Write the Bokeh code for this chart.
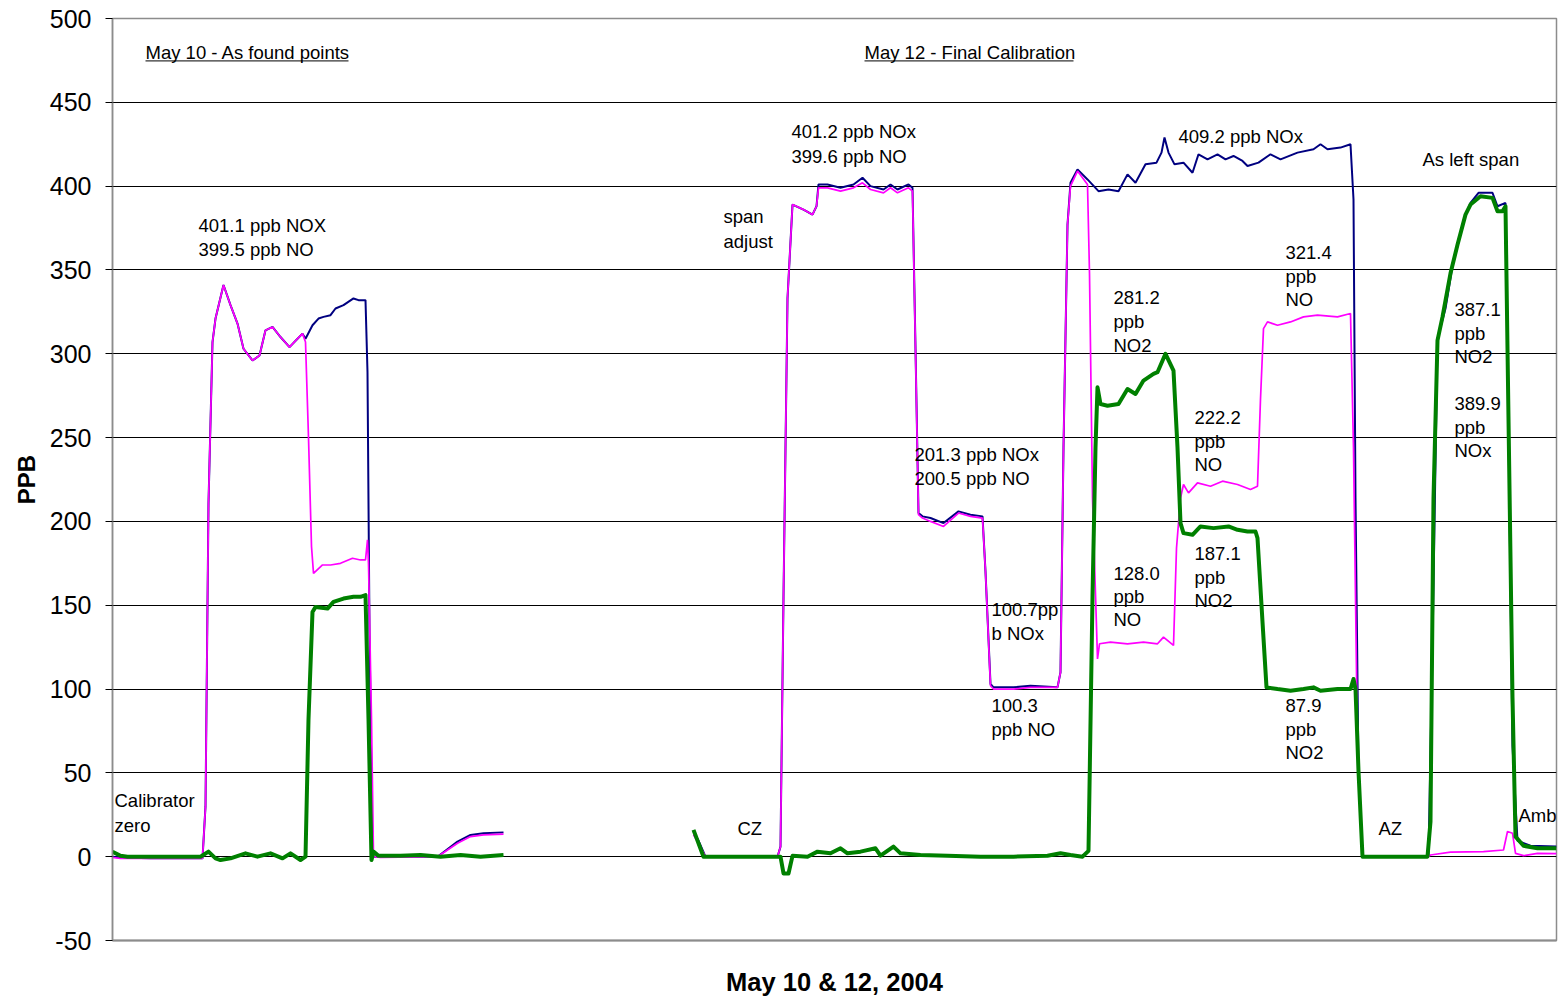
import math
from bokeh.plotting import figure
from bokeh.models import Range1d, FixedTicker, ColumnDataSource, PrintfTickFormatter
from bokeh.core.properties import value
from bokeh.embed import file_html
from bokeh.resources import INLINE

NAN = float("nan")

# ---- data: (time index, ppb) ----
NOX_MAY10 = [(0, 0), (8, -0.5), (38, -1), (68, -1), (90, -1), (93, 30), (96, 211), (100, 307),
             (103, 321), (111, 341), (118, 329), (125, 318), (131, 303), (140, 296), (147, 299),
             (153, 314), (160, 316), (168, 310), (177, 304), (185, 309), (190, 312), (193, 309),
             (200, 317), (206, 321), (211, 322), (218, 323), (223, 327), (231, 329), (241, 333),
             (246, 332), (253, 332), (255, 289), (257, 134), (260, 0), (268, 0), (325, 0),
             (345, 9), (358, 13), (371, 14), (391, 14.5)]
NOX_MAY12 = [(581, 15), (586, 9.5), (593, 0), (665, 0), (668, 6), (671, 155), (675, 333),
             (680, 389), (691, 386), (700, 383), (704, 388), (706, 401), (715, 401), (728, 399),
             (741, 401), (750, 405), (758, 400), (771, 398), (778, 401), (785, 398), (796, 401),
             (800, 399), (803, 303), (806, 205), (810, 203), (818, 202), (831, 199), (846, 206),
             (858, 204), (870, 203), (873, 170), (878, 103), (881, 101), (901, 101), (918, 102),
             (945, 101), (948, 110), (951, 244), (955, 377), (958, 402), (965, 410), (975, 404),
             (986, 397), (996, 398), (1006, 397), (1015, 407), (1023, 402), (1033, 413),
             (1044, 414), (1049, 420), (1052, 429), (1056, 420), (1062, 413), (1071, 414),
             (1080, 408), (1086, 419), (1095, 416), (1105, 419), (1113, 416), (1121, 418),
             (1130, 415), (1135, 412), (1146, 414), (1158, 419), (1168, 416), (1185, 420),
             (1201, 422), (1208, 425), (1215, 422), (1228, 423), (1238, 425), (1241, 392),
             (1243, 214), (1246, 51), (1250, 0), (1316, 0), (1320, 125), (1325, 309), (1333, 327),
             (1341, 356), (1353, 383), (1358, 390), (1366, 396), (1380, 396), (1385, 388),
             (1393, 390), (1395, 303), (1400, 66), (1405, 9.5), (1418, 6.5), (1444, 6)]

NO_MAY10 = [(0, -0.5), (8, -1), (38, -1), (68, -1), (90, -1), (93, 30), (96, 211), (100, 307),
            (103, 321), (111, 341), (118, 329), (125, 318), (131, 303), (140, 296), (147, 299),
            (153, 314), (160, 316), (168, 310), (177, 304), (185, 309), (190, 312), (193, 307),
            (196, 250), (199, 185), (201, 169), (210, 174), (218, 174), (228, 175), (240, 178),
            (248, 177), (253, 177), (255, 189), (256, 175), (259, 82), (261, 0), (268, -0.5),
            (325, 0), (345, 8), (358, 12), (371, 13), (391, 13.5)]
NO_MAY12 = [(581, 13), (586, 8), (593, 0), (665, 0), (668, 6), (671, 155), (675, 333),
            (680, 389), (691, 386), (700, 383), (704, 388), (706, 399), (715, 399), (728, 397),
            (741, 399), (750, 402), (758, 398), (771, 396), (778, 399), (785, 396), (796, 399),
            (800, 397), (803, 302), (806, 204), (810, 202), (818, 200), (831, 197), (846, 205),
            (858, 203), (870, 202), (873, 170), (878, 102), (881, 100), (901, 100), (918, 101),
            (945, 101), (948, 110), (951, 244), (955, 377), (958, 400), (965, 409), (975, 401),
            (977, 348), (980, 214), (985, 118), (987, 127), (998, 128), (1015, 127), (1031, 128),
            (1045, 127), (1051, 131), (1061, 126), (1064, 184), (1068, 214), (1071, 222),
            (1076, 217), (1085, 223), (1098, 221), (1110, 224), (1125, 222), (1138, 219),
            (1145, 221), (1148, 273), (1151, 315), (1155, 319), (1165, 317), (1178, 319),
            (1191, 322), (1205, 323), (1225, 322), (1238, 324), (1241, 244), (1245, 66),
            (1250, 0), (1316, 0), (1318, 1), (1338, 2.7), (1371, 3), (1391, 4), (1395, 15),
            (1400, 14), (1403, 2), (1411, 0.6), (1425, 2), (1444, 1.8)]

NO2_MAY10 = [(0, 3), (8, 0.5), (15, 0), (48, 0), (88, 0), (96, 3), (103, -1), (108, -2),
             (118, -1), (133, 2), (145, 0), (158, 2), (170, -1), (178, 2), (188, -2), (193, 0),
             (196, 82), (200, 146), (203, 149), (215, 148), (221, 152), (231, 154), (241, 155),
             (248, 155), (253, 156), (256, 82), (259, -2), (261, 3), (266, 0.5), (288, 0.5),
             (308, 1), (328, 0), (348, 1), (368, 0), (391, 1)]
NO2_MAY12 = [(581, 16), (591, 0), (665, 0), (668, 0), (671, -10), (676, -10), (680, 0.5),
             (695, 0), (705, 3), (718, 2), (728, 5), (735, 2), (748, 3), (763, 5), (768, 0.6),
             (781, 6), (788, 2), (808, 1), (835, 0.6), (868, 0), (901, 0), (935, 0.6), (948, 2),
             (958, 1), (970, 0), (976, 3.5), (980, 155), (983, 244), (985, 280), (988, 270),
             (995, 269), (1006, 270), (1015, 279), (1023, 276), (1031, 284), (1041, 288),
             (1045, 289), (1053, 300), (1061, 290), (1065, 244), (1068, 199), (1071, 193),
             (1080, 192), (1088, 197), (1101, 196), (1116, 197), (1125, 195), (1135, 194),
             (1143, 194), (1145, 190), (1150, 140), (1154, 101), (1165, 100), (1178, 99),
             (1191, 100), (1201, 101), (1208, 99), (1225, 100), (1238, 100), (1241, 106),
             (1243, 100), (1246, 51), (1250, 0), (1315, 0), (1318, 21), (1321, 214), (1325, 308),
             (1330, 322), (1338, 348), (1345, 365), (1353, 383), (1358, 389), (1368, 394),
             (1380, 393), (1385, 385), (1390, 385), (1393, 388), (1395, 303), (1400, 95),
             (1403, 12), (1411, 6.5), (1425, 5), (1444, 5)]

Y_TICKS = [-50, 0, 50, 100, 150, 200, 250, 300, 350, 400, 450, 500]

# annotation text lines: (text, time index, ppb)
NOTES = [("401.1 ppb NOX", 86, 376.6), ("399.5 ppb NO", 86, 362.3),
         ("span", 611, 382), ("adjust", 611, 367),
         ("401.2 ppb NOx", 679, 432.7), ("399.6 ppb NO", 679, 417.8),
         ("201.3 ppb NOx", 802, 240.2), ("200.5 ppb NO", 802, 225.3),
         ("100.7pp", 879, 147.2), ("b NOx", 879, 132.9),
         ("100.3", 879, 90), ("ppb NO", 879, 75.7),
         ("CZ", 625, 16.7),
         ("Calibrator", 2, 33.4), ("zero", 2, 18.5),
         ("409.2 ppb NOx", 1066, 429.7),
         ("281.2", 1001, 333.7), ("ppb", 1001, 319.4), ("NO2", 1001, 305.1),
         ("128.0", 1001, 169.2), ("ppb", 1001, 155), ("NO", 1001, 141.2),
         ("222.2", 1082, 262.2), ("ppb", 1082, 247.9), ("NO", 1082, 234.2),
         ("187.1", 1082, 180.6), ("ppb", 1082, 166.3), ("NO2", 1082, 152.6),
         ("321.4", 1173, 360.5), ("ppb", 1173, 346.2), ("NO", 1173, 332.5),
         ("87.9", 1173, 90), ("ppb", 1173, 75.7), ("NO2", 1173, 62),
         ("As left span", 1310, 416),
         ("387.1", 1342, 326.6), ("ppb", 1342, 312.3), ("NO2", 1342, 298.6),
         ("389.9", 1342, 270.6), ("ppb", 1342, 256.3), ("NOx", 1342, 242.5),
         ("AZ", 1266, 16.7),
         ("Amb", 1406, 24.4)]

HEADINGS = [("May 10 - As found points", 33, 479.7, 203),
            ("May 12 - Final Calibration", 752, 479.7, 209)]
UNDERLINE_OFFSET = 5.0

FONT = "Liberation Sans"


def join(*segments):
    t, v = [], []
    for i, seg in enumerate(segments):
        if i:
            t.append(NAN)
            v.append(NAN)
        t += [a for a, _ in seg]
        v += [b for _, b in seg]
    return t, v


p = figure(width=1558, height=998, output_backend="svg", toolbar_location=None,
           x_range=Range1d(0, 1444), y_range=Range1d(-50, 500),
           min_border_left=112, min_border_right=2, min_border_top=18, min_border_bottom=57)
p.background_fill_color = "white"
p.border_fill_color = "white"
p.outline_line_color = "#8c8c8c"
p.outline_line_width = 1.5

p.xgrid.visible = False
p.ygrid.ticker = FixedTicker(ticks=Y_TICKS[1:-1])
p.ygrid.grid_line_color = "black"
p.ygrid.grid_line_width = 1

ya = p.yaxis[0]
ya.ticker = FixedTicker(ticks=Y_TICKS)
ya.formatter = PrintfTickFormatter(format="%d")
ya.minor_tick_line_color = None
ya.major_tick_in = 0
ya.major_tick_out = 7
ya.major_tick_line_color = "black"
ya.axis_line_color = "#8c8c8c"
ya.axis_line_width = 1.5
ya.major_label_text_font = FONT
ya.major_label_text_font_size = "25px"
ya.major_label_text_color = "black"
ya.major_label_standoff = 14
ya.axis_label = "PPB"
ya.axis_label_text_font = FONT
ya.axis_label_text_font_size = "24px"
ya.axis_label_text_font_style = "bold"
ya.axis_label_text_color = "black"
ya.axis_label_standoff = 7

xa = p.xaxis[0]
xa.ticker = FixedTicker(ticks=[])
xa.minor_tick_line_color = None
xa.major_tick_line_color = None
xa.major_label_text_font_size = "0px"
xa.major_label_standoff = 0
xa.axis_line_color = "#8c8c8c"
xa.axis_line_width = 2
xa.axis_label = "May 10 & 12, 2004"
xa.axis_label_text_font = FONT
xa.axis_label_text_font_size = "25.5px"
xa.axis_label_text_font_style = "bold"
xa.axis_label_text_color = "black"
xa.axis_label_standoff = 27

t, v = join(NOX_MAY10, NOX_MAY12)
p.line(t, v, line_color="#000080", line_width=2)
t, v = join(NO_MAY10, NO_MAY12)
p.line(t, v, line_color="#FF00FF", line_width=1.7)
t, v = join(NO2_MAY10, NO2_MAY12)
p.line(t, v, line_color="#008000", line_width=4, line_join="round")

notes = ColumnDataSource(dict(text=[n[0] for n in NOTES], x=[n[1] for n in NOTES],
                              y=[n[2] for n in NOTES]))
p.text(x="x", y="y", text="text", source=notes, text_font=value(FONT),
       text_font_size="18.5px", text_color="black", text_baseline="middle", text_align="left")

heads = ColumnDataSource(dict(text=[h[0] for h in HEADINGS], x=[h[1] for h in HEADINGS],
                              y=[h[2] for h in HEADINGS]))
p.text(x="x", y="y", text="text", source=heads, text_font=value(FONT),
       text_font_size="18.5px", text_color="black", text_baseline="middle", text_align="left")
p.segment(x0=[h[1] for h in HEADINGS], x1=[h[1] + h[3] for h in HEADINGS],
          y0=[h[2] - UNDERLINE_OFFSET for h in HEADINGS], y1=[h[2] - UNDERLINE_OFFSET for h in HEADINGS],
          line_color="black", line_width=1)

open("out.html", "w").write(file_html(p, INLINE))
